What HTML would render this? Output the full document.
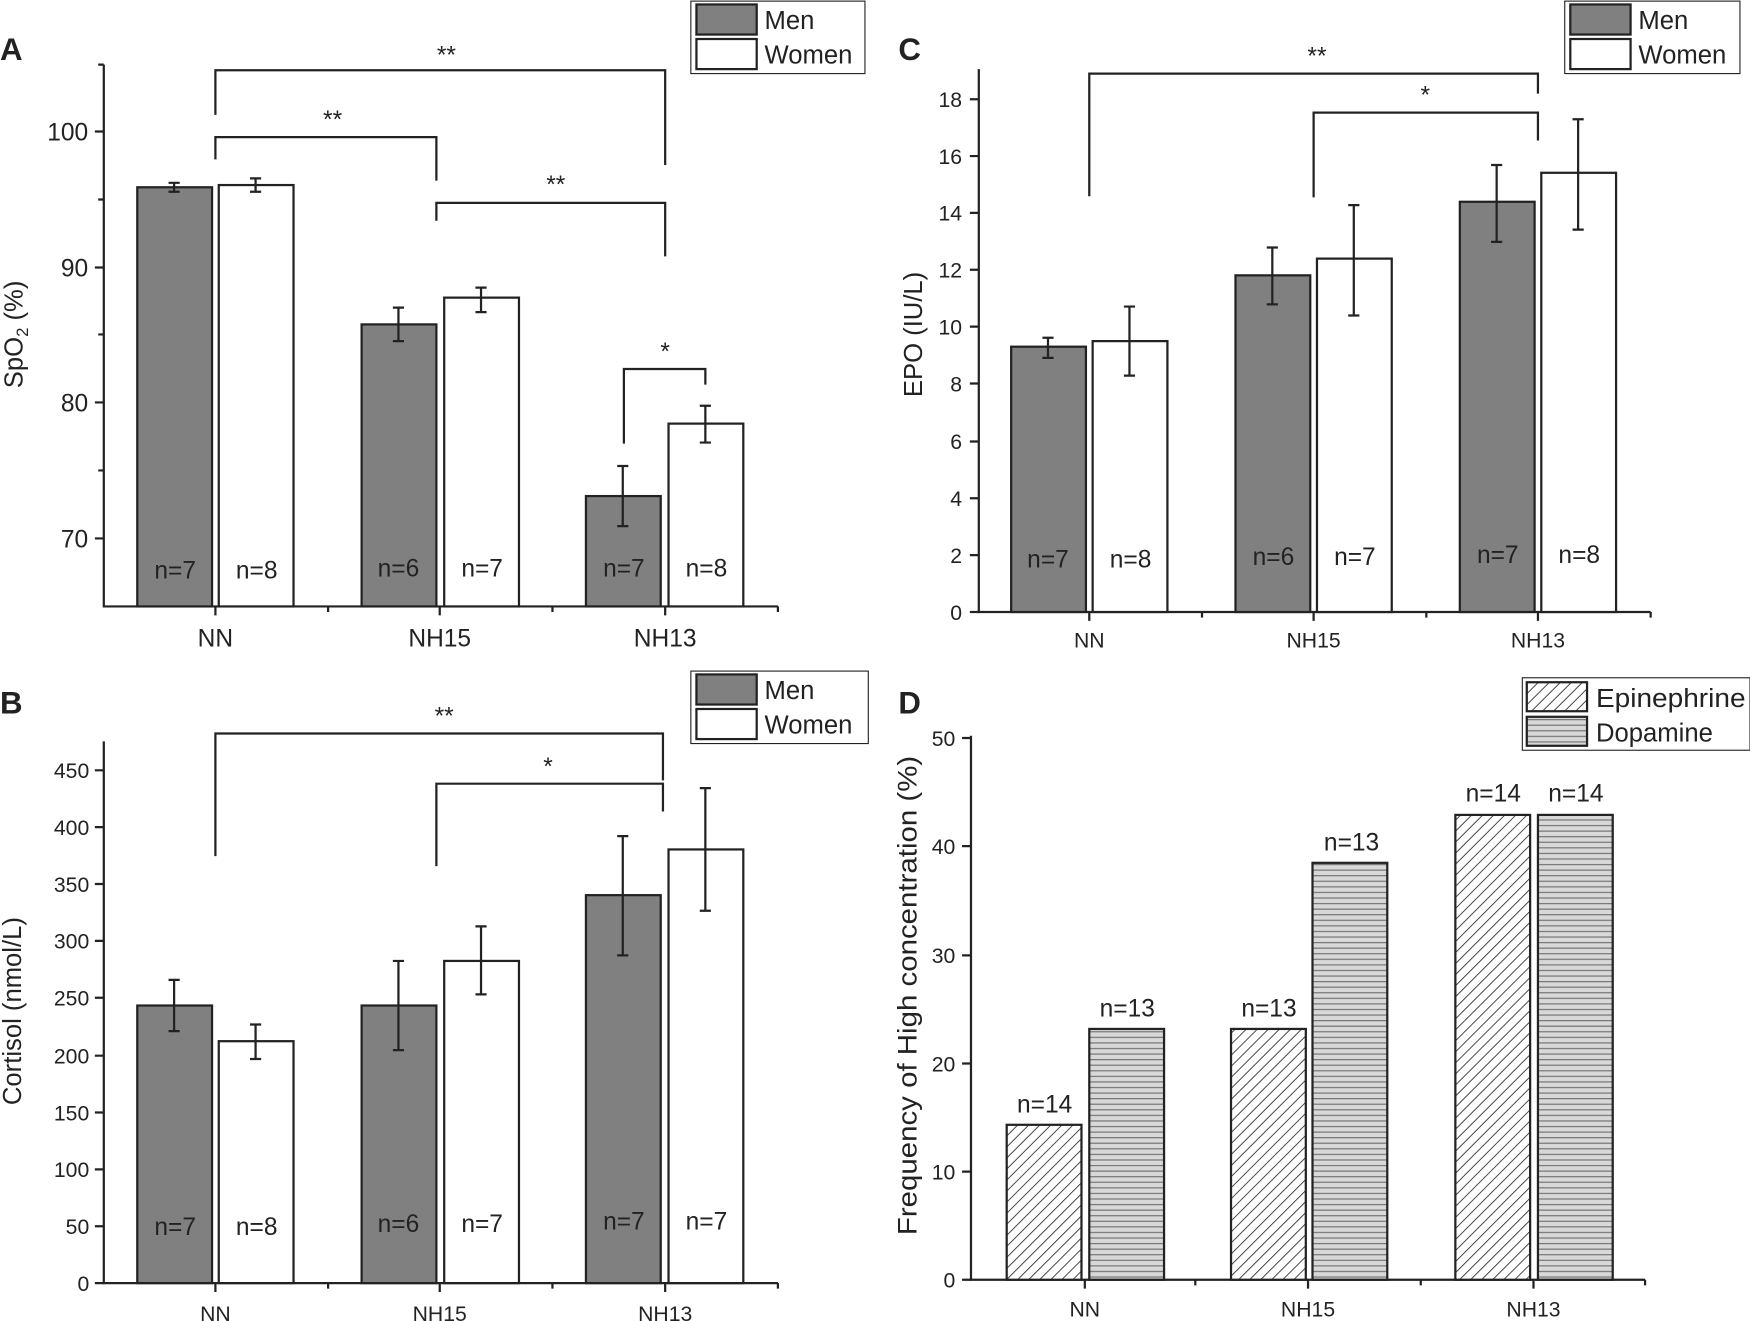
<!DOCTYPE html>
<html><head><meta charset="utf-8"><style>
html,body{margin:0;padding:0;background:#fff;}
svg{display:block;}
text{font-family:"Liberation Sans",Arial,sans-serif;fill:#222;}
</style></head><body>
<svg width="1750" height="1321" viewBox="0 0 1568 1185" preserveAspectRatio="none" xmlns="http://www.w3.org/2000/svg">
<defs>
<pattern id="diag" patternUnits="userSpaceOnUse" width="7" height="7" patternTransform="rotate(45)">
<rect width="7" height="7" fill="#fff"/><line x1="0" y1="0" x2="0" y2="7" stroke="#333" stroke-width="1.6"/>
</pattern>
<pattern id="hor" patternUnits="userSpaceOnUse" width="6" height="5">
<rect width="6" height="5" fill="#d8d8d8"/><line x1="0" y1="0.5" x2="6" y2="0.5" stroke="#777" stroke-width="1.2"/>
</pattern>
</defs>
<g stroke="#222" stroke-width="2" fill="none">
<path d="M93 58V544H697"/>
<path d="M93 118h-8M93 240h-8M93 361h-8M93 483h-8M93 58h-5M93 179h-5M93 300h-5M93 422h-5"/>
<path d="M193 544v8M394 544v8M596 544v8M294 544v5M495 544v5M697 544v5"/>
<path d="M93 665V1151H697"/>
<path d="M93 1151h-8M93 1100h-8M93 1049h-8M93 998h-8M93 947h-8M93 895h-8M93 844h-8M93 793h-8M93 742h-8M93 691h-8"/>
<path d="M193 1151v8M394 1151v8M596 1151v8M294 1151v5M495 1151v5M697 1151v5"/>
<path d="M877 62V549H1479"/>
<path d="M877 549h-8M877 498h-8M877 447h-8M877 396h-8M877 344h-8M877 293h-8M877 242h-8M877 191h-8M877 140h-8M877 89h-8"/>
<path d="M976 549v8M1177 549v8M1378 549v8M1077 549v5M1278 549v5M1479 549v5"/>
<path d="M870 660V1148H1474"/>
<path d="M870 1148h-8M870 1051h-8M870 954h-8M870 857h-8M870 759h-8M870 662h-8"/>
<path d="M972 1148v8M1172 1148v8M1374 1148v8M1071 1148v5M1273 1148v5M1474 1148v5"/>
</g>
<g stroke="#222" stroke-width="2">
<rect x="123" y="168" width="67" height="376" fill="#808080"/>
<rect x="196" y="166" width="67" height="378" fill="#fff"/>
<rect x="324" y="291" width="67" height="253" fill="#808080"/>
<rect x="398" y="267" width="67" height="277" fill="#fff"/>
<rect x="525" y="445" width="67" height="99" fill="#808080"/>
<rect x="599" y="380" width="67" height="164" fill="#fff"/>
<rect x="123" y="902" width="67" height="249" fill="#808080"/>
<rect x="196" y="934" width="67" height="217" fill="#fff"/>
<rect x="324" y="902" width="67" height="249" fill="#808080"/>
<rect x="398" y="862" width="67" height="289" fill="#fff"/>
<rect x="525" y="803" width="67" height="348" fill="#808080"/>
<rect x="599" y="762" width="67" height="389" fill="#fff"/>
<rect x="906" y="311" width="67" height="238" fill="#808080"/>
<rect x="979" y="306" width="67" height="243" fill="#fff"/>
<rect x="1107" y="247" width="67" height="302" fill="#808080"/>
<rect x="1180" y="232" width="67" height="317" fill="#fff"/>
<rect x="1308" y="181" width="67" height="368" fill="#808080"/>
<rect x="1381" y="155" width="67" height="394" fill="#fff"/>
<rect x="902" y="1009" width="67" height="139" fill="url(#diag)"/>
<rect x="976" y="923" width="67" height="225" fill="url(#hor)"/>
<rect x="1103" y="923" width="67" height="225" fill="url(#diag)"/>
<rect x="1176" y="774" width="67" height="374" fill="url(#hor)"/>
<rect x="1304" y="731" width="67" height="417" fill="url(#diag)"/>
<rect x="1378" y="731" width="67" height="417" fill="url(#hor)"/>
</g>
<g stroke="#222" stroke-width="2" fill="none">
<path d="M156 164v8M151 164h10M151 172h10"/>
<path d="M229 160v12M224 160h10M224 172h10"/>
<path d="M357 276v30M352 276h10M352 306h10"/>
<path d="M431 258v22M426 258h10M426 280h10"/>
<path d="M558 418v54M553 418h10M553 472h10"/>
<path d="M632 364v33M627 364h10M627 397h10"/>
<path d="M156 879v46M151 879h10M151 925h10"/>
<path d="M229 919v31M224 919h10M224 950h10"/>
<path d="M357 862v80M352 862h10M352 942h10"/>
<path d="M431 831v61M426 831h10M426 892h10"/>
<path d="M558 750v107M553 750h10M553 857h10"/>
<path d="M632 707v110M627 707h10M627 817h10"/>
<path d="M939 303v18M934 303h10M934 321h10"/>
<path d="M1012 275v62M1007 275h10M1007 337h10"/>
<path d="M1140 222v51M1135 222h10M1135 273h10"/>
<path d="M1213 184v99M1208 184h10M1208 283h10"/>
<path d="M1341 148v69M1336 148h10M1336 217h10"/>
<path d="M1414 107v99M1409 107h10M1409 206h10"/>
<path d="M193 103V63H596V148"/>
<path d="M193 143V123H391V162"/>
<path d="M391 198V182H596V230"/>
<path d="M559 398V331H632V345"/>
<path d="M193 768V658H594V700"/>
<path d="M391 777V703H594V728"/>
<path d="M976 176V66H1378V84"/>
<path d="M1177 177V101H1378V126"/>
</g>
<g font-size="22" text-anchor="middle">
<text x="400" y="57">**</text><text x="298" y="115">**</text><text x="498" y="173">**</text><text x="596" y="323">*</text>
<text x="398" y="650">**</text><text x="491" y="695">*</text>
<text x="1180" y="58">**</text><text x="1277" y="93">*</text>
</g>
<g font-size="22" text-anchor="middle" fill="#333">
<text x="157" y="519">n=7</text><text x="230" y="519">n=8</text><text x="357" y="517">n=6</text><text x="432" y="517">n=7</text><text x="559" y="517">n=7</text><text x="633" y="517">n=8</text>
<text x="157" y="1108">n=7</text><text x="230" y="1108">n=8</text><text x="357" y="1105">n=6</text><text x="432" y="1105">n=7</text><text x="559" y="1103">n=7</text><text x="633" y="1103">n=7</text>
<text x="939" y="509">n=7</text><text x="1013" y="509">n=8</text><text x="1141" y="507">n=6</text><text x="1214" y="507">n=7</text><text x="1342" y="505">n=7</text><text x="1415" y="505">n=8</text>
<text x="936" y="998">n=14</text><text x="1010" y="912">n=13</text><text x="1137" y="912">n=13</text><text x="1211" y="763">n=13</text><text x="1338" y="719">n=14</text><text x="1412" y="719">n=14</text>
</g>
<g font-size="22" text-anchor="end">
<text x="79" y="126">100</text><text x="79" y="248">90</text><text x="79" y="369">80</text><text x="79" y="491">70</text>
</g>
<g font-size="19" text-anchor="end">
<text x="80" y="1158">0</text><text x="80" y="1107">50</text><text x="80" y="1056">100</text><text x="80" y="1005">150</text><text x="80" y="954">200</text><text x="80" y="902">250</text><text x="80" y="851">300</text><text x="80" y="800">350</text><text x="80" y="749">400</text><text x="80" y="698">450</text>
<text x="862" y="556">0</text><text x="862" y="505">2</text><text x="862" y="454">4</text><text x="862" y="403">6</text><text x="862" y="351">8</text><text x="862" y="300">10</text><text x="862" y="249">12</text><text x="862" y="198">14</text><text x="862" y="147">16</text><text x="862" y="96">18</text>
<text x="856" y="1155">0</text><text x="856" y="1058">10</text><text x="856" y="961">20</text><text x="856" y="864">30</text><text x="856" y="766">40</text><text x="856" y="669">50</text>
</g>
<g font-size="22" text-anchor="middle">
<text x="193" y="580">NN</text><text x="394" y="580">NH15</text><text x="596" y="580">NH13</text>
</g>
<g font-size="19" text-anchor="middle">
<text x="193" y="1185">NN</text><text x="394" y="1185">NH15</text><text x="596" y="1185">NH13</text>
<text x="976" y="581">NN</text><text x="1177" y="581">NH15</text><text x="1378" y="581">NH13</text>
<text x="972" y="1181">NN</text><text x="1172" y="1181">NH15</text><text x="1374" y="1181">NH13</text>
</g>
<g font-size="23" text-anchor="middle">
<text transform="translate(20,300) rotate(-90)">SpO<tspan font-size="15" dy="5">2</tspan><tspan dy="-5"> (%)</tspan></text>
<text transform="translate(19,907) rotate(-90)">Cortisol (nmol/L)</text>
<text transform="translate(826,300) rotate(-90)">EPO (IU/L)</text>
<text transform="translate(821,893) rotate(-90)" font-size="24" textLength="430" lengthAdjust="spacingAndGlyphs">Frequency of High concentration (%)</text>
</g>
<g font-size="28" font-weight="bold">
<text x="0" y="54">A</text><text x="0" y="640">B</text><text x="805" y="54">C</text><text x="805" y="640">D</text>
</g>
<g stroke="#222">
<rect x="619" y="1" width="156" height="65" fill="#fff" stroke-width="1"/>
<rect x="624" y="4" width="54" height="27" fill="#808080" stroke-width="2"/>
<rect x="624" y="35" width="54" height="27" fill="#fff" stroke-width="2"/>
<rect x="619" y="602" width="159" height="65" fill="#fff" stroke-width="1"/>
<rect x="624" y="605" width="54" height="27" fill="#808080" stroke-width="2"/>
<rect x="624" y="636" width="54" height="27" fill="#fff" stroke-width="2"/>
<rect x="1402" y="1" width="157" height="65" fill="#fff" stroke-width="1"/>
<rect x="1407" y="4" width="54" height="27" fill="#808080" stroke-width="2"/>
<rect x="1407" y="35" width="54" height="27" fill="#fff" stroke-width="2"/>
<rect x="1364" y="608" width="204" height="65" fill="#fff" stroke-width="1"/>
<rect x="1368" y="612" width="54" height="26" fill="url(#diag)" stroke-width="2"/>
<rect x="1368" y="643" width="54" height="26" fill="url(#hor)" stroke-width="2"/>
</g>
<g font-size="23">
<text x="685" y="26">Men</text><text x="685" y="57">Women</text>
<text x="685" y="627">Men</text><text x="685" y="658">Women</text>
<text x="1468" y="26">Men</text><text x="1468" y="57">Women</text>
<text x="1430" y="634" textLength="134" lengthAdjust="spacingAndGlyphs">Epinephrine</text><text x="1430" y="665">Dopamine</text>
</g>
</svg>
</body></html>
